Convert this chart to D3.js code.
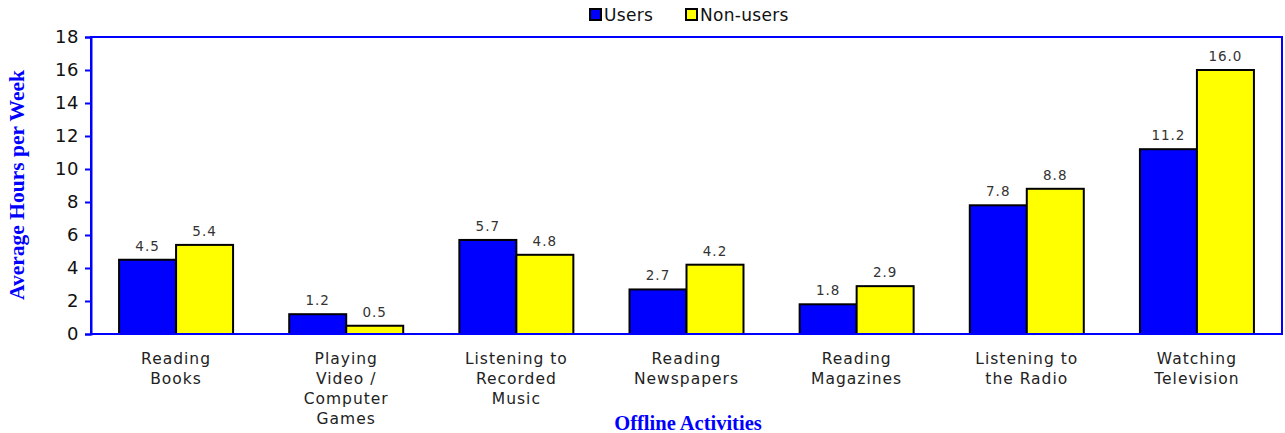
<!DOCTYPE html>
<html>
<head>
<meta charset="utf-8">
<script src="https://cdn.jsdelivr.net/npm/d3@7"></script>
<style>
  body { margin: 0; background: #fff; }
  svg { display: block; }
</style>
</head>
<body>
<svg id="chart" width="1285" height="433"></svg>
<script>
const categories = [
  ['Reading', 'Books'],
  ['Playing', 'Video /', 'Computer', 'Games'],
  ['Listening to', 'Recorded', 'Music'],
  ['Reading', 'Newspapers'],
  ['Reading', 'Magazines'],
  ['Listening to', 'the Radio'],
  ['Watching', 'Television']
]
const seriesNames = ['Users', 'Non-users']
const users = [4.5, 1.2, 5.7, 2.7, 1.8, 7.8, 11.2]
const nonUsers = [5.4, 0.5, 4.8, 4.2, 2.9, 8.8, 16.0]
const yTicks = [0, 2, 4, 6, 8, 10, 12, 14, 16, 18]

const colors = ['#0000ff', '#ffff00']
const margin = { top: 37, right: 3, bottom: 99, left: 91 }
const width = 1285
const height = 433
const sans = 'DejaVu Sans, Verdana, sans-serif'
const serif = 'Liberation Serif, Times New Roman, serif'

const svg = d3.select('#chart')
const plotW = width - margin.left - margin.right
const plotH = height - margin.top - margin.bottom

const x0 = d3.scaleBand()
  .domain(d3.range(categories.length))
  .range([margin.left, margin.left + plotW])
  .paddingInner(0.33)
  .paddingOuter(0.165)

const x1 = d3.scaleBand()
  .domain(seriesNames)
  .range([0, x0.bandwidth()])

const y = d3.scaleLinear()
  .domain([0, 18])
  .range([margin.top + plotH, margin.top])

// bars + value labels
const values = [users, nonUsers]
const g = svg.append('g')
categories.forEach((c, i) => {
  seriesNames.forEach((s, j) => {
    const v = values[j][i]
    g.append('rect')
      .attr('x', x0(i) + x1(s))
      .attr('y', y(v))
      .attr('width', x1.bandwidth())
      .attr('height', y(0) - y(v))
      .attr('fill', colors[j])
      .attr('stroke', '#000')
      .attr('stroke-width', 2)
    g.append('text')
      .attr('x', x0(i) + x1(s) + x1.bandwidth() / 2)
      .attr('y', y(v) - 9)
      .attr('text-anchor', 'middle')
      .attr('font-family', sans)
      .attr('font-size', 13.5)
      .attr('letter-spacing', 1)
      .attr('fill', '#333')
      .text(v.toFixed(1))
  })
})

// frame
svg.append('rect')
  .attr('x', margin.left)
  .attr('y', margin.top)
  .attr('width', plotW)
  .attr('height', plotH)
  .attr('fill', 'none')
  .attr('stroke', '#0000ff')
  .attr('stroke-width', 2)

// y axis
const yAxis = svg.append('g')
  .attr('transform', `translate(${margin.left},0)`)
  .call(d3.axisLeft(y).tickValues(yTicks).tickSize(6).tickPadding(6))
yAxis.select('.domain').attr('stroke', '#0000ff').attr('stroke-width', 2)
yAxis.selectAll('.tick line').attr('stroke', '#0000ff').attr('stroke-width', 2)
yAxis.selectAll('.tick text')
  .attr('font-family', sans)
  .attr('font-size', 18)
  .attr('letter-spacing', 0.5)
  .attr('fill', '#111')

// category labels
categories.forEach((lines, i) => {
  const cx = x0(i) + x0.bandwidth() / 2
  const t = svg.append('text')
    .attr('x', cx)
    .attr('y', 364)
    .attr('text-anchor', 'middle')
    .attr('font-family', sans)
    .attr('font-size', 15.5)
    .attr('letter-spacing', 1)
    .attr('fill', '#222')
  lines.forEach((l, k) => {
    t.append('tspan')
      .attr('x', cx)
      .attr('dy', k === 0 ? 0 : 20)
      .text(l)
  })
})

// axis titles
svg.append('text')
  .attr('x', 688)
  .attr('y', 430)
  .attr('text-anchor', 'middle')
  .attr('font-family', serif)
  .attr('font-weight', 'bold')
  .attr('font-size', 20.5)
  .attr('fill', '#0000ff')
  .text('Offline Activities')

svg.append('text')
  .attr('transform', 'translate(24,185) rotate(-90)')
  .attr('text-anchor', 'middle')
  .attr('font-family', serif)
  .attr('font-weight', 'bold')
  .attr('font-size', 21.5)
  .attr('fill', '#0000ff')
  .text('Average Hours per Week')

// legend
const legendX = [590, 686]
seriesNames.forEach((s, j) => {
  svg.append('rect')
    .attr('x', legendX[j])
    .attr('y', 9)
    .attr('width', 11)
    .attr('height', 11)
    .attr('fill', colors[j])
    .attr('stroke', '#000')
    .attr('stroke-width', 2)
  svg.append('text')
    .attr('x', legendX[j] + 14)
    .attr('y', 21)
    .attr('font-family', sans)
    .attr('font-size', 17)
    .attr('letter-spacing', 0.3)
    .attr('fill', '#111')
    .text(s)
})
</script>
</body>
</html>
